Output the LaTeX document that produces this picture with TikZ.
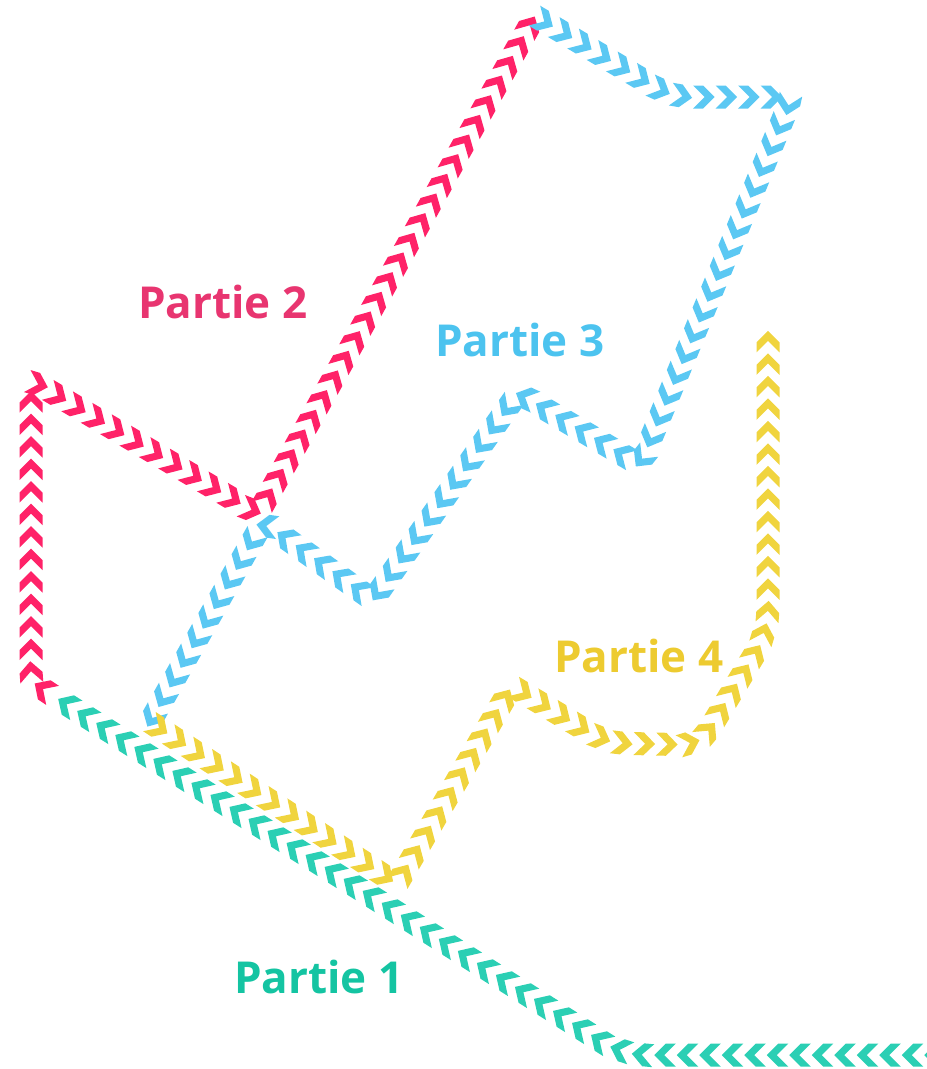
\documentclass[tikz,border=0pt]{standalone}
\usepackage{fontspec}
\setmainfont{Open Sans}
\usetikzlibrary{decorations.markings}

% stroke colours of the chevron trails
\definecolor{trailA}{HTML}{2BCFB4}
\definecolor{trailB}{HTML}{FF2268}
\definecolor{trailC}{HTML}{5BC8F3}
\definecolor{trailD}{HTML}{F0D43E}
% label colours
\definecolor{textA}{HTML}{14C4A2}
\definecolor{textB}{HTML}{E83570}
\definecolor{textC}{HTML}{4CC3EF}
\definecolor{textD}{HTML}{EDCB30}

\tikzset{
  chevrons/.style={decorate, decoration={markings,
      mark=between positions 10pt and -4pt step 22.5pt with {
        \fill[#1, sharp corners] (10.75,0) -- (-0.75,11.5) -- (-10.75,11.5)
                  -- (0.75,0) -- (-10.75,-11.5) -- (-0.75,-11.5) -- cycle;}}},
  lbl/.style={anchor=base west, inner sep=0pt,
      font=\fontsize{44}{54}\selectfont\bfseries},
}

\begin{document}
\begin{tikzpicture}[x=1pt,y=-1pt]
\useasboundingbox (0,0) rectangle (927,1069);

% junctions between the four parts
\coordinate (start) at (945,1055);
\coordinate (j1) at (52,695);
\coordinate (j2) at (535,16);
\coordinate (j3) at (150,722);
\coordinate (finish) at (768,322);

% part 1
\path[chevrons=trailA, rounded corners=25pt]
  (start) -- (623,1055) -- (j1);
% part 2
\path[chevrons=trailB, rounded corners=10pt]
  (j1) -- (31,681) -- (31,380) -- (258,514) -- (j2);
% part 3
\path[chevrons=trailC, rounded corners=20pt]
  (j2) -- (672,97) [rounded corners=10pt] -- (792,97) -- (640,465)
  -- (518,393) -- (373,600) -- (263,522) -- (j3);
% part 4
\path[chevrons=trailD, rounded corners=10pt]
  (j3) -- (397,884) -- (512,686) [rounded corners=20pt] -- (607,743)
  -- (700,745) [rounded corners=25pt] -- (768,632) -- (finish);

% labels
\node[lbl, text=textA] (lab1) at (234,993) {Partie 1};
\node[lbl, text=textB] (lab2) at (138,318) {Partie 2};
\node[lbl, text=textC] (lab3) at (435,356) {Partie 3};
\node[lbl, text=textD] (lab4) at (554,672) {Partie 4};
\end{tikzpicture}
\end{document}
